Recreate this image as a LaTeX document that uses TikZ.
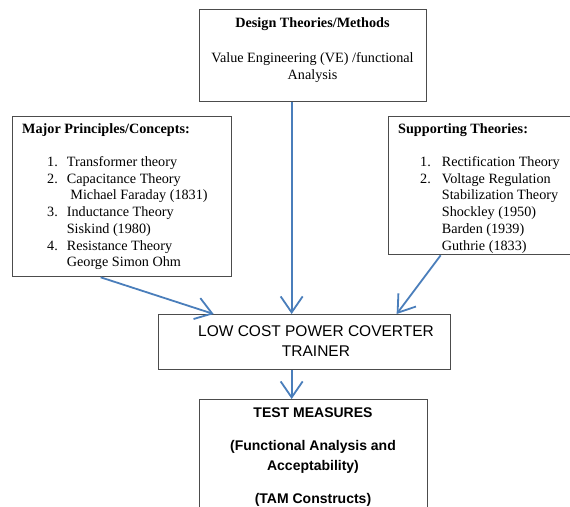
\documentclass[tikz,border=0pt]{standalone}
\usepackage{fontspec}
\setmainfont{Liberation Serif}
\setsansfont{Liberation Sans}
\usetikzlibrary{arrows.meta}
\definecolor{arrowblue}{HTML}{4A7EBB}

\begin{document}
\begin{tikzpicture}
      [x=1pt,y=-1pt,
       box/.style={draw=black!70,line width=1.3pt,inner sep=0pt,anchor=north west},
       arr/.style={draw=arrowblue,line width=1.8pt,-{Straight Barb[length=16pt,width=22pt,line width=1.8pt]}},
       txt/.style={inner sep=0pt,font=\fontsize{14.2}{16.7}\selectfont},
       sans/.style={inner sep=0pt,align=center}]
      \useasboundingbox (0,0) rectangle (570,506);

      % the five boxes
      \node [box,minimum width=227pt,minimum height=92pt] (design) at (199,9) {};
      \node [box,minimum width=219pt,minimum height=160pt] (major) at (12,116) {};
      \node [box,minimum width=186pt,minimum height=138pt] (support) at (388,116) {};
      \node [box,minimum width=292pt,minimum height=55pt] (mid) at (158,314) {};
      \node [box,minimum width=228pt,minimum height=110pt] (test) at (199,399) {};

      % texts
      \node [txt,align=center,anchor=north] (designtxt) at (312.5,17)
        {\textbf{Design Theories/Methods}\\[19pt]
         Value Engineering (VE) /functional\\ Analysis};
      \node [txt,anchor=north west] (majortxt) at (22,122)
        {\begin{tabular}{@{}l@{\hspace{9pt}}l@{}}
         \multicolumn{2}{@{}l}{\textbf{Major Principles/Concepts:}}\\[16pt]
         \hspace{25pt}1. & Transformer theory\\
         \hspace{25pt}2. & Capacitance Theory\\
          & \ Michael Faraday (1831)\\
         \hspace{25pt}3. & Inductance Theory\\
          & Siskind (1980)\\
         \hspace{25pt}4. & Resistance Theory\\
          & George Simon Ohm
         \end{tabular}};
      \node [txt,anchor=north west] (supporttxt) at (398,122)
        {\begin{tabular}{@{}l@{\hspace{11pt}}l@{}}
         \multicolumn{2}{@{}l}{\textbf{Supporting Theories:}}\\[16pt]
         \hspace{22pt}1. & Rectification Theory\\
         \hspace{22pt}2. & Voltage Regulation\\
          & Stabilization Theory\\
          & Shockley (1950)\\
          & Barden (1939)\\
          & Guthrie (1833)
         \end{tabular}};
      \node [sans,font=\sffamily\fontsize{15.5}{20}\selectfont] (midtxt) at (316,341)
        {LOW COST POWER COVERTER\\ TRAINER};
      \node [sans,anchor=north,font=\sffamily\bfseries\fontsize{14}{20}\selectfont] (testtxt) at (313,408)
        {TEST MEASURES\\[13pt] (Functional Analysis and\\ Acceptability)\\[13pt] (TAM Constructs)};

      % arrows
      \draw [arr] ([xshift=-21.5pt]design.south) -- ([xshift=-13pt]mid.north);
      \draw [arr] ([xshift=-21.5pt]major.south) -- ([xshift=-91pt]mid.north);
      \draw [arr] ([xshift=-41pt]support.south) -- ([xshift=92pt]mid.north);
      \draw [arr] ([xshift=-13pt]mid.south) -- ([xshift=-22pt]test.north);
    \end{tikzpicture}
\end{document}
